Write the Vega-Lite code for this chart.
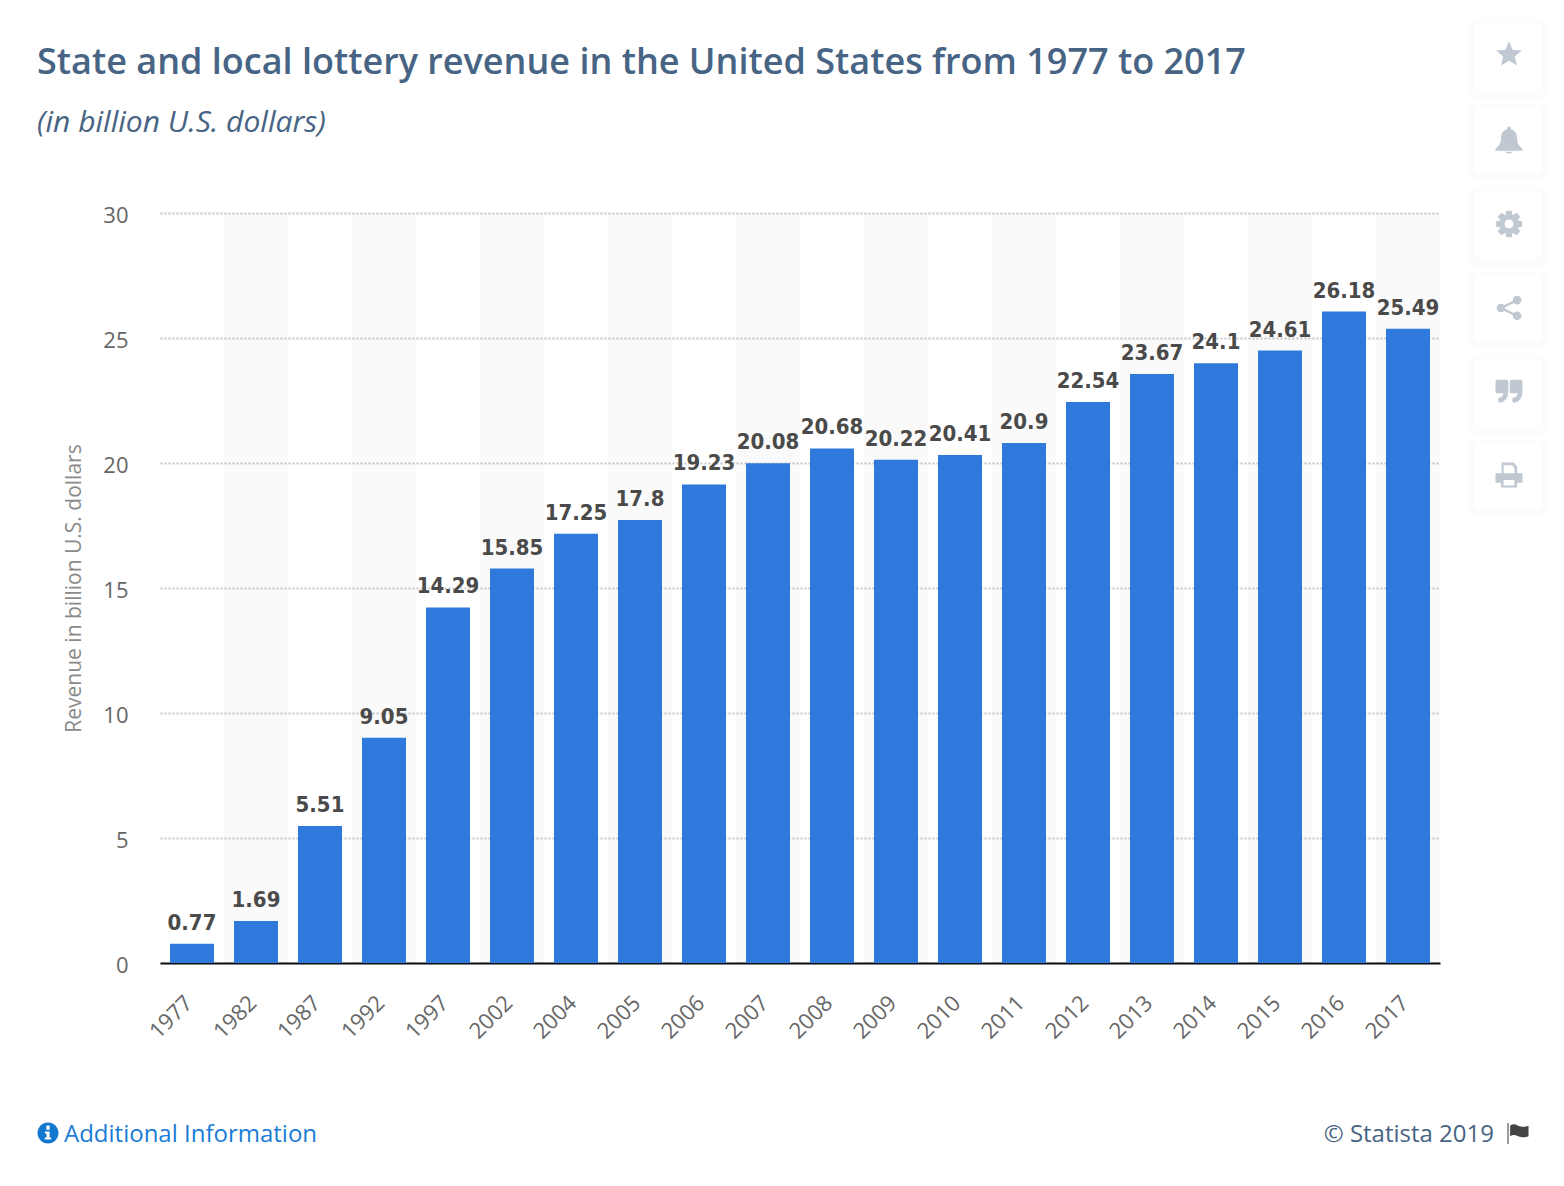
{
  "$schema": "https://vega.github.io/schema/vega-lite/v6.json",
  "autosize": {"type": "none"},
  "padding": {"left": 160, "top": 213, "right": 124, "bottom": 223},
  "width": 1280,
  "height": 750,
  "background": "#ffffff",
  "config": {"view": {"stroke": null}},
  "title": {
    "text": "State and local lottery revenue in the United States from 1977 to 2017",
    "subtitle": "(in billion U.S. dollars)",
    "anchor": "start",
    "frame": "group",
    "dx": -123,
    "offset": -119,
    "font": "Open Sans",
    "fontSize": 36,
    "fontWeight": 600,
    "color": "#476484",
    "subtitleFont": "Open Sans",
    "subtitleFontSize": 30,
    "subtitleFontStyle": "italic",
    "subtitleColor": "#476484",
    "subtitlePadding": 26
  },
  "datasets": {
    "revenue": [
      {"year": "1977", "revenue": 0.77},
      {"year": "1982", "revenue": 1.69},
      {"year": "1987", "revenue": 5.51},
      {"year": "1992", "revenue": 9.05},
      {"year": "1997", "revenue": 14.29},
      {"year": "2002", "revenue": 15.85},
      {"year": "2004", "revenue": 17.25},
      {"year": "2005", "revenue": 17.8},
      {"year": "2006", "revenue": 19.23},
      {"year": "2007", "revenue": 20.08},
      {"year": "2008", "revenue": 20.68},
      {"year": "2009", "revenue": 20.22},
      {"year": "2010", "revenue": 20.41},
      {"year": "2011", "revenue": 20.9},
      {"year": "2012", "revenue": 22.54},
      {"year": "2013", "revenue": 23.67},
      {"year": "2014", "revenue": 24.1},
      {"year": "2015", "revenue": 24.61},
      {"year": "2016", "revenue": 26.18},
      {"year": "2017", "revenue": 25.49}
    ],
    "stripes": [
      {"year": "1982"}, {"year": "1992"}, {"year": "2002"}, {"year": "2005"}, {"year": "2007"},
      {"year": "2009"}, {"year": "2011"}, {"year": "2013"}, {"year": "2015"}, {"year": "2017"}
    ],
    "actions": [
      {"icon": "star", "column": "actions"},
      {"icon": "bell", "column": "actions"},
      {"icon": "gear", "column": "actions"},
      {"icon": "share", "column": "actions"},
      {"icon": "quote", "column": "actions"},
      {"icon": "print", "column": "actions"}
    ],
    "footerIcons": [
      {"icon": "info", "row": "footer"},
      {"icon": "flag", "row": "footer"}
    ]
  },
  "resolve": {"scale": {"x": "independent", "y": "independent", "shape": "independent", "color": "independent"}},
  "layer": [
    {
      "data": {"name": "stripes"},
      "mark": {"type": "bar", "width": {"band": 1.4545}, "fill": "#000000", "fillOpacity": 0.02},
      "encoding": {
        "x": {"field": "year", "type": "nominal", "axis": null, "scale": {"domain": ["1977","1982","1987","1992","1997","2002","2004","2005","2006","2007","2008","2009","2010","2011","2012","2013","2014","2015","2016","2017"], "paddingInner": 0.3125, "paddingOuter": 0.15625}},
        "y": {
          "datum": 30,
          "type": "quantitative",
          "scale": {"domain": [0, 30], "nice": false},
          "axis": {
            "values": [0, 5, 10, 15, 20, 25, 30],
            "title": "Revenue in billion U.S. dollars",
            "titleFont": "Open Sans",
            "titleFontSize": 21,
            "titleFontWeight": "normal",
            "titleColor": "#8a8a8a",
            "titlePadding": 18,
            "labelFont": "Open Sans",
            "labelFontSize": 22,
            "labelColor": "#666666",
            "labelPadding": 32,
            "labelBaseline": "middle",
            "labelOffset": 2,
            "domain": false,
            "ticks": false,
            "grid": true,
            "gridColor": "#c8c8c8",
            "gridWidth": 2,
            "gridDash": [2, 2]
          }
        },
        "y2": {"datum": 0}
      }
    },
    {
      "data": {"name": "revenue"},
      "mark": {"type": "bar", "fill": "#2f78dc"},
      "encoding": {
        "x": {
          "field": "year",
          "type": "nominal",
          "title": null,
          "scale": {"domain": ["1977","1982","1987","1992","1997","2002","2004","2005","2006","2007","2008","2009","2010","2011","2012","2013","2014","2015","2016","2017"], "paddingInner": 0.3125, "paddingOuter": 0.15625},
          "axis": {
            "labelAngle": -45,
            "labelFont": "Open Sans",
            "labelFontSize": 22,
            "labelColor": "#666666",
            "labelPadding": 29,
            "labelOffset": -10,
            "ticks": false,
            "domainColor": "#111111",
            "domainWidth": 2
          }
        },
        "y": {"field": "revenue", "type": "quantitative", "axis": null, "scale": {"domain": [0, 30.14], "nice": false}}
      }
    },
    {
      "data": {"name": "revenue"},
      "mark": {"type": "text", "font": "DejaVu Sans Condensed", "fontSize": 22, "fontWeight": "bold", "fill": "#4a4a4a", "baseline": "alphabetic", "dy": -14},
      "encoding": {
        "x": {"field": "year", "type": "nominal", "axis": null, "scale": {"domain": ["1977","1982","1987","1992","1997","2002","2004","2005","2006","2007","2008","2009","2010","2011","2012","2013","2014","2015","2016","2017"], "paddingInner": 0.3125, "paddingOuter": 0.15625}},
        "y": {"field": "revenue", "type": "quantitative", "axis": null, "scale": {"domain": [0, 30.14], "nice": false}},
        "text": {"field": "revenue", "type": "quantitative"}
      }
    },
    {
      "data": {"name": "actions"},
      "mark": {"type": "point", "filled": true, "size": 6084, "fill": "#eef0f4", "opacity": 0.2, "shape": "M-0.8,-1H0.8Q1,-1 1,-0.8V0.8Q1,1 0.8,1H-0.8Q-1,1 -1,0.8V-0.8Q-1,-1 -0.8,-1Z"},
      "encoding": {
        "x": {"field": "column", "type": "nominal", "axis": null, "scale": {"type": "point", "padding": 0, "range": [1348, 1348]}},
        "y": {"field": "icon", "type": "nominal", "axis": null, "sort": null, "scale": {"type": "point", "padding": 0, "range": [-154, 266]}}
      }
    },
    {
      "data": {"name": "actions"},
      "mark": {"type": "point", "filled": true, "size": 4624, "fill": "#ffffff", "opacity": 1, "shape": "M-0.8,-1H0.8Q1,-1 1,-0.8V0.8Q1,1 0.8,1H-0.8Q-1,1 -1,0.8V-0.8Q-1,-1 -0.8,-1Z"},
      "encoding": {
        "x": {"field": "column", "type": "nominal", "axis": null, "scale": {"type": "point", "padding": 0, "range": [1348, 1348]}},
        "y": {"field": "icon", "type": "nominal", "axis": null, "sort": null, "scale": {"type": "point", "padding": 0, "range": [-157, 263]}}
      }
    },
    {
      "data": {"name": "actions"},
      "mark": {"type": "point", "filled": true, "size": 729, "opacity": 1},
      "encoding": {
        "x": {"field": "column", "type": "nominal", "axis": null, "scale": {"type": "point", "padding": 0, "range": [1349, 1349]}},
        "y": {"field": "icon", "type": "nominal", "axis": null, "sort": null, "scale": {"type": "point", "padding": 0, "range": [-157, 263]}},
        "color": {"value": "#c0c8d2"},
        "shape": {
          "field": "icon",
          "type": "nominal",
          "legend": null,
          "scale": {
            "domain": ["star", "bell", "gear", "share", "quote", "print"],
            "range": [
              "M0,-1.1L0.265,-0.464L0.951,-0.409L0.428,0.039L0.588,0.709L0,0.35L-0.588,0.709L-0.428,0.039L-0.951,-0.409L-0.265,-0.464Z",
              "M0,-1C0.1,-1 0.15,-0.9 0.15,-0.8C0.5,-0.7 0.6,-0.4 0.6,-0.1C0.6,0.25 0.75,0.45 1,0.65V0.8H-1V0.65C-0.75,0.45 -0.6,0.25 -0.6,-0.1C-0.6,-0.4 -0.5,-0.7 -0.15,-0.8C-0.15,-0.9 -0.1,-1 0,-1ZM-0.25,0.87H0.25C0.2,1.05 -0.2,1.05 -0.25,0.87Z",
              "M0.677,-0.246L0.978,-0.208L0.978,0.208L0.677,0.246L0.653,0.304L0.839,0.545L0.545,0.839L0.304,0.653L0.246,0.677L0.208,0.978L-0.208,0.978L-0.246,0.677L-0.304,0.653L-0.545,0.839L-0.839,0.545L-0.653,0.304L-0.677,0.246L-0.978,0.208L-0.978,-0.208L-0.677,-0.246L-0.653,-0.304L-0.839,-0.545L-0.545,-0.839L-0.304,-0.653L-0.246,-0.677L-0.208,-0.978L0.208,-0.978L0.246,-0.677L0.304,-0.653L0.545,-0.839L0.839,-0.545L0.653,-0.304ZM0.33,0A0.33,0.33 0 1 0 -0.33,0A0.33,0.33 0 1 0 0.33,0Z",
              "M-0.28,0A0.32,0.32 0 1 1 -0.92,0A0.32,0.32 0 1 1 -0.28,0ZM0.92,-0.58A0.32,0.32 0 1 1 0.28,-0.58A0.32,0.32 0 1 1 0.92,-0.58ZM0.92,0.58A0.32,0.32 0 1 1 0.28,0.58A0.32,0.32 0 1 1 0.92,0.58ZM-0.6,-0.1L0.6,-0.68L0.6,-0.48L-0.6,0.1ZM-0.6,-0.1L0.6,0.48L0.6,0.68L-0.6,0.1Z",
              "M-1,-0.75Q-1,-0.9 -0.85,-0.9H-0.15Q-0.05,-0.9 -0.05,-0.75V-0.1Q-0.05,0.7 -0.7,0.8Q-0.8,0.8 -0.8,0.65V0.45Q-0.45,0.4 -0.4,0.1H-0.85Q-1,0.1 -1,0ZM0.05,-0.75Q0.05,-0.9 0.2,-0.9H0.9Q1,-0.9 1,-0.75V-0.1Q1,0.7 0.35,0.8Q0.25,0.8 0.25,0.65V0.45Q0.6,0.4 0.65,0.1H0.2Q0.05,0.1 0.05,0Z",
              "M-0.55,-1H0.35L0.6,-0.7V-0.2H1V0.5H0.6V0.85H-0.6V0.5H-1V-0.2H-0.55ZM-0.4,-0.8V-0.2H0.4V-0.6L0.25,-0.8ZM-0.4,0.3V0.7H0.4V0.3Z"
            ]
          }
        }
      }
    },
    {
      "data": {"name": "footerIcons"},
      "mark": {"type": "point", "filled": true, "size": 441, "opacity": 1},
      "encoding": {
        "x": {"field": "icon", "type": "nominal", "axis": null, "sort": null, "scale": {"type": "point", "padding": 0, "range": [-112, 1358]}},
        "y": {"field": "row", "type": "nominal", "axis": null, "scale": {"type": "point", "padding": 0, "range": [920, 920]}},
        "color": {"field": "icon", "type": "nominal", "legend": null, "scale": {"domain": ["info", "flag"], "range": ["#1277cf", "#444444"]}},
        "shape": {
          "field": "icon",
          "type": "nominal",
          "legend": null,
          "scale": {
            "domain": ["info", "flag"],
            "range": [
              "M1,0A1,1 0 1 1 -1,0A1,1 0 1 1 1,0ZM-0.16,-0.72V-0.32H0.16V-0.72ZM-0.3,-0.15V0.05H-0.14V0.42H-0.3V0.62H0.3V0.42H0.15V-0.15Z",
              "M-1,-0.95H-0.9V1.05H-1ZM-0.75,-0.7Q-0.4,-0.95 0,-0.7Q0.5,-0.5 1,-0.7V0.3Q0.5,0.5 0,0.3Q-0.4,0.1 -0.75,0.3Z"
            ]
          }
        }
      }
    },
    {
      "data": {"values": [{"label": "Additional Information", "row": "footer"}]},
      "mark": {"type": "text", "font": "Open Sans", "fontSize": 24, "fill": "#1a7cd6", "align": "left", "baseline": "middle"},
      "encoding": {
        "x": {"field": "label", "type": "nominal", "axis": null, "scale": {"type": "point", "padding": 0, "range": [-96, -96]}},
        "y": {"field": "row", "type": "nominal", "axis": null, "scale": {"type": "point", "padding": 0, "range": [922, 922]}},
        "text": {"field": "label"}
      }
    },
    {
      "data": {"values": [{"label": "© Statista 2019", "row": "footer"}]},
      "mark": {"type": "text", "font": "Open Sans", "fontSize": 24, "fill": "#476484", "align": "right", "baseline": "middle"},
      "encoding": {
        "x": {"field": "label", "type": "nominal", "axis": null, "scale": {"type": "point", "padding": 0, "range": [1334, 1334]}},
        "y": {"field": "row", "type": "nominal", "axis": null, "scale": {"type": "point", "padding": 0, "range": [922, 922]}},
        "text": {"field": "label"}
      }
    }
  ]
}
